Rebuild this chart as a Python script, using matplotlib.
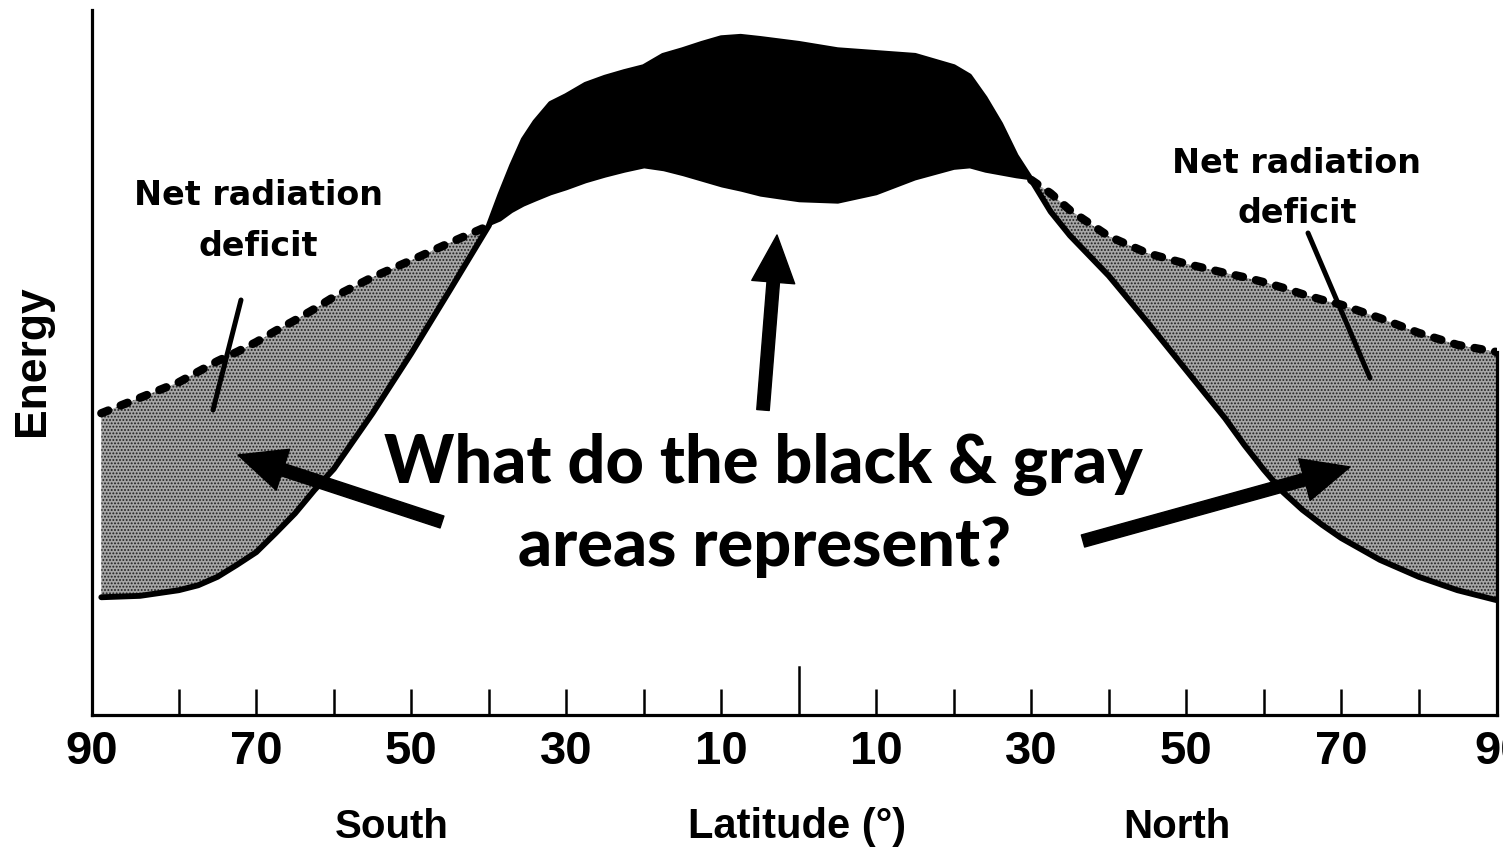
import numpy as np
import matplotlib.pyplot as plt
from matplotlib.transforms import ScaledTranslation

plt.rcParams['font.family'] = ['Liberation Sans', 'DejaVu Sans']

# latitude (negative = south) and energy in arbitrary units (0 = axis, 100 = top)
lat = [-90, -85, -80, -77.5, -75, -72.5, -70, -67.5, -65, -62.5, -60, -55, -50, -45,
       -40, -38.5, -37, -35.5, -34, -32, -30, -27.5, -25, -22.5, -20, -17.5, -15, -12.5,
       -10, -7.5, -5, 0, 5, 10, 15, 20, 22, 24, 26, 28, 30, 32.5,
       35, 40, 45, 50, 55, 57.5, 60, 62.5, 65, 67.5, 70, 75, 80, 85, 90]
# absorbed solar radiation (solid line)
solar = [16.7, 16.9, 17.7, 18.4, 19.6, 21.3, 23.1, 25.8, 28.6, 31.9, 34.9, 42.8, 51.3, 60.3,
         69.4, 73.8, 77.9, 81.6, 84.1, 86.7, 87.8, 89.4, 90.4, 91.2, 91.9, 93.5, 94.3, 95.2,
         96.0, 96.2, 95.9, 95.2, 94.3, 93.9, 93.5, 91.9, 90.6, 87.5, 83.8, 79.3, 75.9, 71.4,
         68.0, 62.3, 55.7, 48.9, 42.1, 38.3, 34.8, 31.6, 29.1, 27.0, 25.1, 22.0, 19.6, 17.7, 16.3]
# outgoing radiation (dashed line)
outgoing = [42.8, 45.0, 47.2, 48.7, 50.2, 51.5, 52.9, 54.5, 56.0, 57.6, 59.3, 62.1, 64.5, 67.0,
            69.4, 70.1, 71.3, 72.2, 72.9, 73.8, 74.5, 75.5, 76.3, 77.0, 77.6, 77.2, 76.5, 75.7,
            74.9, 74.3, 73.6, 72.8, 72.6, 73.8, 75.9, 77.4, 77.6, 77.0, 76.6, 76.2, 75.9, 74.0,
            71.6, 67.9, 65.5, 64.0, 62.7, 62.1, 61.4, 60.6, 59.7, 58.9, 58.2, 56.3, 54.2, 52.5, 51.5]

tick_pos = [-90, -70, -50, -30, -10, 10, 30, 50, 70, 90]
tick_txt = ['90', '70', '50', '30', '10', '10', '30', '50', '70', '90']
minor_pos = [-80, -60, -40, -20, 20, 40, 60, 80]

W, H = 1503, 851


def fx(px):
    return px / W


def fy(py):
    return 1 - py / H


fig = plt.figure(figsize=(W / 100, H / 100), dpi=100)
ax = fig.add_axes([fx(92), fy(715), (1497 - 92) / W, (715 - 10) / H])
ax.set_xlim(-91.2, 90.1)
ax.set_ylim(0, 100)

x = np.array(lat)
sol = np.array(solar)
out = np.array(outgoing)

# deficit (gray) and surplus (black)
plt.rcParams['hatch.linewidth'] = 0.9
ax.fill_between(x, sol, out, where=out >= sol, interpolate=True,
                facecolor='#a6a6a6', edgecolor='#1e1e1e', hatch='.....', linewidth=0)
ax.fill_between(x, sol, out, where=sol >= out, interpolate=True,
                color='black', linewidth=0)

ax.plot(x, sol, color='black', lw=4.2, solid_capstyle='round', solid_joinstyle='round')
south = x <= -40
north = x >= 30
for m in (south, north):
    ax.plot(x[m], out[m], color='black', lw=6, dashes=(0.9, 1.6),
            dash_capstyle='round')

for s in ('left', 'bottom', 'right'):
    ax.spines[s].set_linewidth(2.3)
ax.spines['top'].set_visible(False)
ax.spines['right'].set_bounds(0, outgoing[-1])

ax.set_yticks([])
ax.set_xticks(tick_pos, labels=tick_txt)
ax.set_xticks(minor_pos, minor=True)
ax.tick_params(axis='x', which='both', direction='in', length=19, width=1.8,
               pad=11, labelsize=34)
for lbl in ax.get_xticklabels():
    lbl.set_fontweight('bold')
majors = ax.xaxis.get_major_ticks()
majors[0].tick1line.set_visible(False)
majors[-1].tick1line.set_visible(False)
# end labels sit on the frame edges
for t, dx in ((majors[0], -10), (majors[-1], 4)):
    t.label1.set_transform(t.label1.get_transform()
                           + ScaledTranslation(dx / 100, 0, fig.dpi_scale_trans))
ax.axvline(0, 0, 48 / 705, color='black', lw=1.8)

# axis titles
fig.text(fx(32), fy(361), 'Energy', rotation=90, ha='center', va='center',
         fontsize=32, fontweight='bold')
fig.text(fx(392), fy(827), 'South', ha='center', va='center', fontsize=29, fontweight='bold')
fig.text(fx(797), fy(827), 'Latitude (°)', ha='center', va='center', fontsize=30,
         fontweight='bold')
fig.text(fx(1177), fy(827), 'North', ha='center', va='center', fontsize=29, fontweight='bold')

# annotations
note = dict(ha='center', va='baseline', fontsize=24, fontweight='bold', family=['DejaVu Sans'])
fig.text(fx(258), fy(205), 'Net radiation', **note)
fig.text(fx(258), fy(256), 'deficit', **note)
fig.text(fx(1297), fy(173), 'Net radiation', **note)
fig.text(fx(1297), fy(223), 'deficit', **note)

big = dict(ha='center', va='baseline', fontsize=48, fontweight='black', family=['Lato', 'DejaVu Sans'])
fig.text(fx(763), fy(483), 'What do the black & gray', **big)
fig.text(fx(765), fy(566), 'areas represent?', **big)

arrow = dict(arrowstyle='simple,head_length=3.4,head_width=3.1,tail_width=0.9',
             fc='black', ec='black', mutation_scale=10, shrinkA=0, shrinkB=0)
for tail, tip in [((763, 410), (777, 235)),
                  ((442, 522), (238, 455)),
                  ((1083, 541), (1350, 467))]:
    ax.annotate('', xy=(fx(tip[0]), fy(tip[1])), xytext=(fx(tail[0]), fy(tail[1])),
                xycoords='figure fraction', textcoords='figure fraction', arrowprops=arrow)

for a, b in [((241, 300), (213, 410)), ((1308, 233), (1370, 378))]:
    ax.annotate('', xy=(fx(b[0]), fy(b[1])), xytext=(fx(a[0]), fy(a[1])),
                xycoords='figure fraction', textcoords='figure fraction',
                arrowprops=dict(arrowstyle='-', color='black', lw=3.6,
                                shrinkA=0, shrinkB=0))

fig.savefig('out.png', dpi=100)
